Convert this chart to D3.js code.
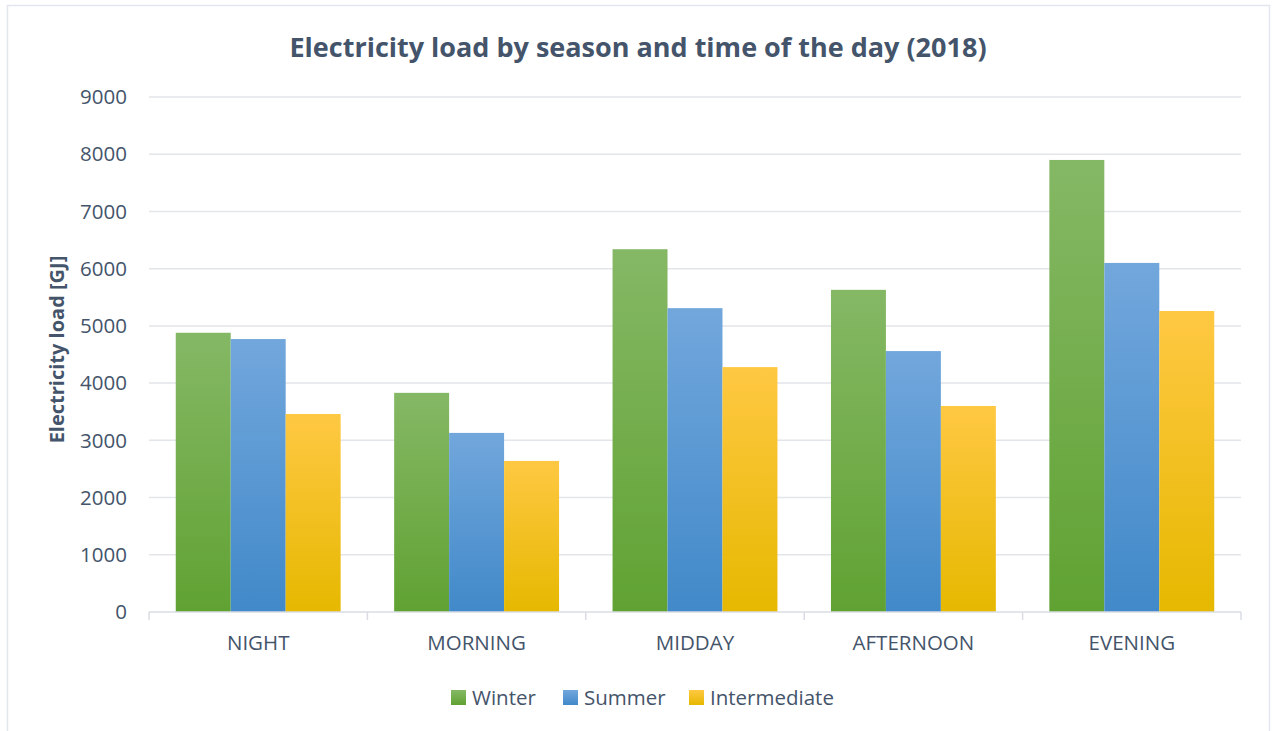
<!DOCTYPE html>
<html>
<head>
<meta charset="utf-8">
<script src="https://cdn.jsdelivr.net/npm/d3@7"></script>
<style>
  body { margin: 0; background: #fff; }
  text { font-family: "Open Sans", sans-serif; fill: #44546a; }
</style>
</head>
<body>
<div id="chart"></div>
<script>
// Chart data
var periods = ["NIGHT", "MORNING", "MIDDAY", "AFTERNOON", "EVENING"];
var seasons = ["Winter", "Summer", "Intermediate"];
var winter = [4880, 3830, 6340, 5630, 7900];
var summer = [4770, 3130, 5310, 4560, 6100];
var intermediate = [3460, 2640, 4280, 3600, 5260];
var yTicks = [0, 1000, 2000, 3000, 4000, 5000, 6000, 7000, 8000, 9000];

// Gradient colours per season (top, bottom)
var seasonColors = {
    Winter: ["#85b865", "#60a232"],
    Summer: ["#72a7dc", "#4189c9"],
    Intermediate: ["#ffc843", "#e6b800"]
};

var width = 1274, height = 731;
var margin = { top: 97, right: 33, bottom: 119, left: 149 };
var plotW = width - margin.left - margin.right;
var plotH = height - margin.top - margin.bottom;

var svg = d3.select("#chart").append("svg")
    .attr("width", width)
    .attr("height", height);

// Gradients for the bars
var defs = svg.append("defs");
seasons.forEach(function (s) {
    var g = defs.append("linearGradient")
        .attr("id", "grad-" + s)
        .attr("x1", 0).attr("y1", 0).attr("x2", 0).attr("y2", 1);
    g.append("stop").attr("offset", "0%").attr("stop-color", seasonColors[s][0]);
    g.append("stop").attr("offset", "100%").attr("stop-color", seasonColors[s][1]);
});

// Outer border
svg.append("rect")
    .attr("x", 7.5).attr("y", 5.5)
    .attr("width", 1262).attr("height", 740)
    .attr("fill", "none")
    .attr("stroke", "#e3e6ec")
    .attr("stroke-width", 1.5);

// Title
svg.append("text")
    .attr("x", 638).attr("y", 57)
    .attr("text-anchor", "middle")
    .attr("font-size", 27)
    .attr("font-weight", "bold")
    .text("Electricity load by season and time of the day (2018)");

var chart = svg.append("g")
    .attr("transform", "translate(" + margin.left + "," + margin.top + ")");

var yScale = d3.scaleLinear().domain([0, 9000]).range([plotH, 0]);

var x0 = d3.scaleBand()
    .domain(periods)
    .range([0, plotW])
    .paddingInner(0.245)
    .paddingOuter(0.1225);

var x1 = d3.scaleBand()
    .domain(seasons)
    .range([0, x0.bandwidth()]);

// Gridlines
chart.append("g")
    .selectAll("line")
    .data(yTicks.slice(1))
    .enter().append("line")
    .attr("x1", 0).attr("x2", plotW)
    .attr("y1", function (d) { return yScale(d); })
    .attr("y2", function (d) { return yScale(d); })
    .attr("stroke", "#e2e5ea")
    .attr("stroke-width", 1.5);

// Y tick labels
chart.append("g")
    .selectAll("text")
    .data(yTicks)
    .enter().append("text")
    .attr("x", -22)
    .attr("y", function (d) { return yScale(d); })
    .attr("dy", "0.35em")
    .attr("text-anchor", "end")
    .attr("font-size", 20.5)
    .text(function (d) { return d; });

// Y axis title
svg.append("text")
    .attr("transform", "translate(64," + (margin.top + plotH / 2 - 5) + ") rotate(-90)")
    .attr("text-anchor", "middle")
    .attr("font-size", 20)
    .attr("font-weight", "bold")
    .text("Electricity load [GJ]");

// Bars
var rows = periods.map(function (p, i) {
    return { period: p, values: [winter[i], summer[i], intermediate[i]] };
});

chart.append("g")
    .selectAll("g")
    .data(rows)
    .enter().append("g")
    .attr("transform", function (d) { return "translate(" + x0(d.period) + ",0)"; })
    .selectAll("rect")
    .data(function (d) { return seasons.map(function (s, j) { return { key: s, value: d.values[j] }; }); })
    .enter().append("rect")
    .attr("x", function (d) { return x1(d.key); })
    .attr("width", x1.bandwidth())
    .attr("y", function (d) { return yScale(d.value); })
    .attr("height", function (d) { return plotH - yScale(d.value); })
    .attr("fill", function (d) { return "url(#grad-" + d.key + ")"; });

// X axis baseline and category separators
var xAxis = chart.append("g").attr("transform", "translate(0," + plotH + ")");
xAxis.append("line")
    .attr("x1", 0).attr("x2", plotW)
    .attr("y1", 0).attr("y2", 0)
    .attr("stroke", "#d9dde3")
    .attr("stroke-width", 1.5);
var step = x0.step();
xAxis.selectAll(".tick")
    .data(d3.range(periods.length + 1))
    .enter().append("line")
    .attr("class", "tick")
    .attr("x1", function (d) { return d * step; })
    .attr("x2", function (d) { return d * step; })
    .attr("y1", 0).attr("y2", 8)
    .attr("stroke", "#d9dde3")
    .attr("stroke-width", 1.5);
xAxis.selectAll(".cat")
    .data(periods)
    .enter().append("text")
    .attr("class", "cat")
    .attr("x", function (d) { return x0(d) + x0.bandwidth() / 2; })
    .attr("y", 38)
    .attr("text-anchor", "middle")
    .attr("font-size", 20.5)
    .text(function (d) { return d; });

// Legend
var legendX = [451, 563, 689];
var legend = svg.append("g")
    .selectAll("g")
    .data(seasons)
    .enter().append("g")
    .attr("transform", function (d, i) { return "translate(" + legendX[i] + ",690)"; });
legend.append("rect")
    .attr("width", 15).attr("height", 15)
    .attr("fill", function (d) { return "url(#grad-" + d + ")"; });
legend.append("text")
    .attr("x", 21).attr("y", 7.5)
    .attr("dy", "0.35em")
    .attr("font-size", 20.5)
    .text(function (d) { return d; });
</script>
</body>
</html>
